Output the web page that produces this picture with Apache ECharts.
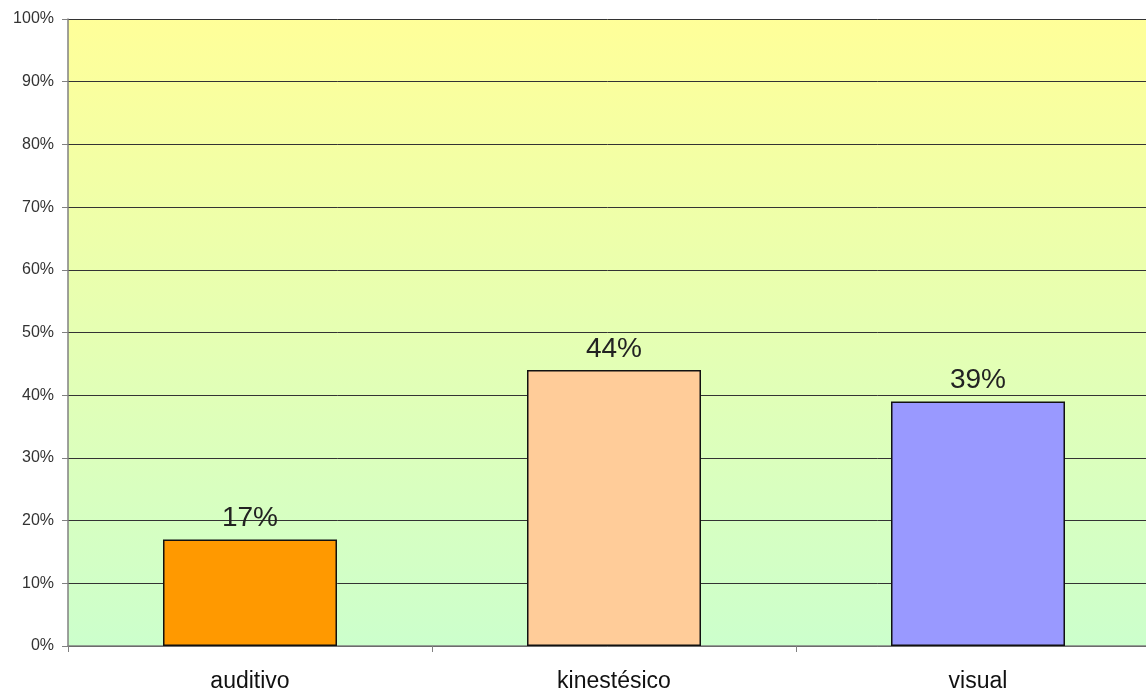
<!DOCTYPE html>
<html>
<head>
<meta charset="utf-8">
<style>
  html, body { margin: 0; padding: 0; background: #fff; }
  #chart { width: 1146px; height: 692px; }
</style>
<script src="https://cdn.jsdelivr.net/npm/echarts@6/dist/echarts.min.js"></script>
</head>
<body>
<div id="chart"></div>
<script>
// datos
const categories = ['auditivo', 'kinestésico', 'visual'];
const values = [17, 44, 39];
const barColors = ['#FF9900', '#FFCC99', '#9999FF'];

const chart = echarts.init(document.getElementById('chart'));
chart.setOption({
  animation: false,
  grid: {
    left: 68, top: 19, width: 1092, height: 627,
    outerBoundsMode: 'none',
    containLabel: false,
    show: true,
    borderWidth: 0,
    backgroundColor: new echarts.graphic.LinearGradient(0, 0, 0, 1, [
      { offset: 0, color: '#FFFF99' },
      { offset: 1, color: '#CCFFCC' }
    ])
  },
  xAxis: {
    type: 'category',
    data: categories,
    axisLine: { lineStyle: { color: '#808080', width: 1.5 } },
    axisTick: { show: true, length: 6, lineStyle: { color: '#808080' } },
    axisLabel: { color: '#111', fontSize: 23, fontFamily: 'Liberation Sans, Arial', margin: 24 }
  },
  yAxis: {
    type: 'value',
    min: 0, max: 100, interval: 10,
    axisLine: { show: true, lineStyle: { color: '#808080', width: 1.5 } },
    axisTick: { show: true, length: 6, lineStyle: { color: '#808080' } },
    axisLabel: { color: '#333', fontSize: 16, fontFamily: 'Liberation Sans, Arial', margin: 14, formatter: '{value}%' },
    splitLine: { lineStyle: { color: '#333', width: 1 } }
  },
  series: [{
    type: 'bar',
    data: values.map((v, i) => ({ value: v, itemStyle: { color: barColors[i] } })),
    barWidth: 174,
    itemStyle: { borderColor: '#111', borderWidth: 1.5 },
    label: {
      show: true, position: 'top', distance: 7,
      formatter: '{c}%', fontSize: 28, color: '#222', fontFamily: 'Liberation Sans, Arial'
    }
  }]
});
</script>
</body>
</html>
